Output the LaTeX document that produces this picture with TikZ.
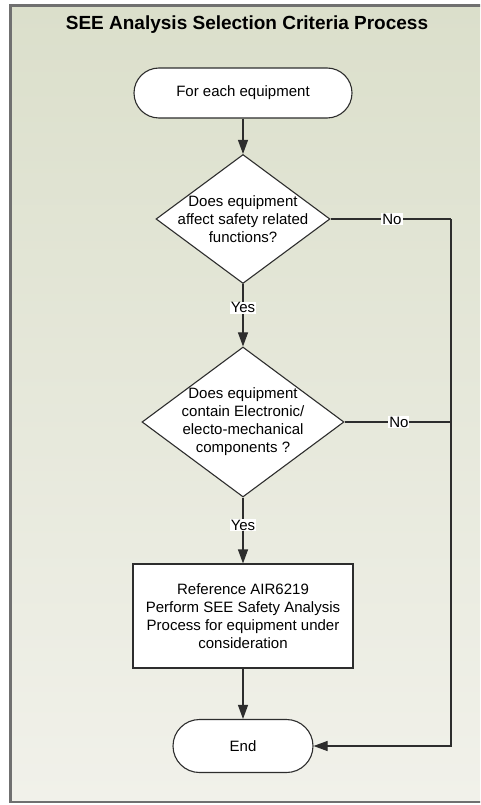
\documentclass[tikz,border=0pt]{standalone}
\usepackage{fontspec}
\setmainfont{Liberation Sans}
\usetikzlibrary{shapes.geometric,arrows.meta}
\definecolor{bgtop}{RGB}{219,223,203}
\definecolor{bgbot}{RGB}{241,241,234}
\definecolor{framec}{RGB}{112,112,112}
\definecolor{linec}{RGB}{45,45,45}
\begin{document}
\begin{tikzpicture}[x=1pt,y=-1pt,
  every node/.style={font=\fontsize{15}{18}\selectfont, text=black},
  term/.style={draw=linec, fill=white, line width=1.1pt, inner sep=0pt},
  dec/.style={draw=linec, fill=white, line width=1.1pt, diamond, inner sep=0pt},
  proc/.style={draw=linec, fill=white, line width=1.1pt, rectangle, inner sep=0pt, align=center},
  lbl/.style={align=center},
  yn/.style={fill=white, inner sep=1pt},
  conn/.style={draw=linec, line width=1.1pt},
  arr/.style={conn, -{Triangle[width=10pt,length=14pt]}}
]
\useasboundingbox (0,0) rectangle (480,805);
\clip (0,0) rectangle (480,805);
\shade[top color=bgtop, bottom color=bgbot] (10.5,5.5) rectangle (495,802);
\draw[framec, line width=2.6pt] (10.5,5.5) rectangle (495,802);

\node[font=\fontsize{19}{22}\selectfont\bfseries] (title) at (247,25) {SEE Analysis Selection Criteria Process};

\node[term, rounded corners=25pt, minimum width=218pt, minimum height=50pt] (s) at (243,93) {For each equipment};
\node[dec, minimum width=174pt, minimum height=129pt,
  label={[lbl]center:{Does equipment\\affect safety related\\functions?}}] (d1) at (243,219) {};
\node[dec, minimum width=202pt, minimum height=150pt,
  label={[lbl]center:{Does equipment\\contain Electronic/\\electo-mechanical\\components ?}}] (d2) at (243,422) {};
\node[proc, minimum width=220pt, minimum height=104pt] (p) at (243,616)
  {Reference AIR6219\\Perform SEE Safety Analysis\\Process for equipment under\\consideration};
\node[term, rounded corners=26.5pt, minimum width=140pt, minimum height=53pt] (e) at (243,746) {End};

\coordinate (c1) at (451,219);
\coordinate (c2) at (451,422);
\coordinate (c3) at (451,746);

\draw[arr] (s) -- (d1);
\draw[arr] (d1) -- node[yn, pos=0.38] {Yes} (d2);
\draw[arr] (d2) -- node[yn, pos=0.42] {Yes} (p);
\draw[arr] (p) -- (e);
\draw[conn] (d1.east) -- node[yn, pos=0.51] {No} (c1);
\draw[conn] (d2.east) -- node[yn, pos=0.51] {No} (c2);
\draw[arr] (c1) -- (c3) -- (e.east);
\end{tikzpicture}
\end{document}
